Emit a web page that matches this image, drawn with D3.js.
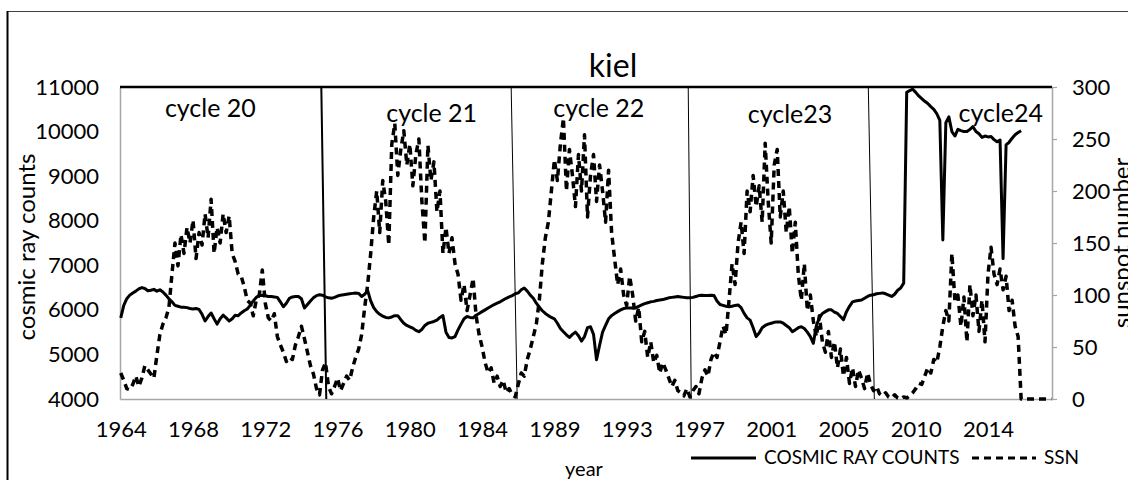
<!DOCTYPE html>
<html>
<head>
<meta charset="utf-8">
<script src="https://cdn.jsdelivr.net/npm/d3@7"></script>
<style>
	body { margin: 0; background: #fff; }
	svg { display: block; font-family: Lato, 'Open Sans', sans-serif; }
</style>
</head>
<body>
<div id="chart"></div>
<script>
// monthly categories, one value every 2 months, starting 1964
const monthCount = 619;

const yearLabels = ['1964', '1968', '1972', '1976', '1980', '1984', '1989', '1993', '1997', '2001', '2005', '2010', '2014'];
const labelEvery = 48; // months between year labels

const crTicks = [4000, 5000, 6000, 7000, 8000, 9000, 10000, 11000];
const ssnTicks = [0, 50, 100, 150, 200, 250, 300];

// Kiel neutron monitor, cosmic ray counts (bimonthly)
const crCounts = [
	5820, 6100, 6250, 6330, 6380, 6420, 6470, 6500, 6480, 6430,
	6440, 6460, 6420, 6450, 6400, 6330, 6250, 6180, 6100, 6080,
	6060, 6060, 6050, 6030, 6020, 6030, 6010, 5900, 5750, 5850,
	5930, 5800, 5680, 5800, 5880, 5820, 5750, 5800, 5880, 5870,
	5930, 5980, 6020, 6100, 6200, 6280, 6320, 6330, 6320, 6300,
	6300, 6290, 6280, 6180, 6070, 6150, 6260, 6290, 6300, 6300,
	6250, 6040, 6120, 6200, 6270, 6320, 6340, 6330, 6290, 6270,
	6260, 6280, 6310, 6330, 6340, 6350, 6360, 6370, 6380, 6370,
	6300, 6350, 6430, 6200, 6050, 5960, 5900, 5860, 5830, 5820,
	5840, 5870, 5870, 5780, 5700, 5650, 5620, 5590, 5540, 5510,
	5560, 5650, 5700, 5720, 5740, 5770, 5830, 5870, 5500, 5380,
	5370, 5400, 5550, 5680, 5800, 5850, 5830, 5820, 5880, 5920,
	5960, 6000, 6040, 6080, 6120, 6150, 6180, 6220, 6260, 6290,
	6320, 6360, 6380, 6450, 6490, 6420, 6330, 6260, 6150, 6060,
	5980, 5920, 5870, 5830, 5800, 5700, 5580, 5510, 5440, 5380,
	5450, 5500, 5420, 5300, 5400, 5600, 5620, 5450, 4880, 5200,
	5500, 5650, 5800, 5870, 5920, 5960, 6000, 6030, 6040, 6040,
	6040, 6050, 6080, 6110, 6140, 6160, 6180, 6190, 6210, 6220,
	6230, 6250, 6270, 6280, 6290, 6300, 6290, 6280, 6270, 6270,
	6280, 6300, 6320, 6330, 6320, 6320, 6330, 6320, 6200, 6120,
	6100, 6080, 6070, 6080, 6100, 6110, 6050, 5920, 5820, 5770,
	5600, 5400, 5480, 5600, 5650, 5680, 5700, 5720, 5730, 5730,
	5700, 5650, 5600, 5510, 5550, 5600, 5620, 5580, 5500, 5400,
	5250, 5650, 5820, 5920, 5960, 6000, 6000, 5950, 5920, 5850,
	5780, 5960, 6080, 6180, 6200, 6210, 6220, 6260, 6300, 6330,
	6340, 6360, 6370, 6380, 6360, 6330, 6300, 6350, 6440, 6490,
	6600, 10880, 10920, 10950, 10880, 10800, 10740, 10680, 10630, 10560,
	10500, 10400, 10250, 7570, 10200, 10330, 10000, 9900, 10050, 10020,
	10000, 10000, 10050, 10110, 10000, 9950, 9870, 9900, 9880, 9890,
	9820, 9770, 9810, 7150, 9700, 9760, 9850, 9930, 9980, 10020
];

// sunspot number (bimonthly)
const ssn = [
	25, 18, 10, 9, 14, 22, 12, 20, 32, 28,
	24, 20, 42, 62, 72, 78, 88, 120, 150, 128,
	158, 140, 165, 150, 172, 135, 160, 148, 178, 155,
	192, 140, 165, 150, 178, 160, 176, 140, 132, 120,
	118, 108, 95, 92, 80, 95, 100, 124, 92, 78,
	75, 82, 60, 52, 45, 36, 40, 38, 52, 60,
	70, 58, 45, 32, 24, 10, 4, 28, 35, 12,
	5, 12, 20, 8, 15, 22, 18, 30, 40, 48,
	62, 88, 110, 140, 175, 200, 160, 210, 190, 148,
	245, 265, 215, 240, 258, 225, 245, 205, 235, 250,
	190, 150, 244, 210, 228, 180, 200, 140, 165, 140,
	155, 130, 120, 95, 110, 85, 100, 116, 80, 62,
	50, 35, 25, 30, 15, 22, 12, 18, 6, 10,
	4, 2, 14, 25, 22, 38, 48, 60, 72, 95,
	130, 155, 170, 200, 230, 210, 245, 270, 200, 240,
	215, 185, 235, 200, 254, 175, 215, 235, 190, 225,
	200, 170, 220, 160, 135, 110, 125, 100, 90, 118,
	100, 75, 88, 55, 65, 40, 55, 35, 42, 25,
	35, 28, 20, 12, 18, 8, 6, 3, 10, 2,
	8, 12, 5, 20, 28, 22, 38, 45, 40, 55,
	70, 62, 95, 130, 110, 150, 170, 140, 200, 180,
	215, 185, 205, 170, 246, 190, 150, 225, 240, 175,
	200, 160, 185, 140, 170, 120, 95, 130, 85, 100,
	75, 60, 80, 55, 45, 65, 40, 55, 30, 48,
	22, 40, 15, 30, 12, 28, 20, 10, 25, 14,
	8, 12, 5, 3, 6, 2, 1, 4, 1, 0,
	2, 1, 3, 6, 10, 15, 14, 22, 30, 25,
	38, 35, 50, 70, 85, 75, 140, 95, 100, 70,
	98, 55, 110, 80, 100, 65, 95, 55, 120, 146,
	120, 110, 125, 105, 118, 85, 95, 70, 60, 0,
	0, 0, 0, 0, 0, 0, 0, 0, 0, 0
];

// solar cycle names and hand drawn boundaries (month index at top and bottom)
const cycleNames = ['cycle 20', 'cycle 21', 'cycle 22', 'cycle23', 'cycle24'];
const cycleTop = [133.7, 259.8, 377.4, 497];
const cycleBottom = [137, 263.8, 379.4, 501];

const width = 1128;
const height = 480;
const margin = { top: 87, right: 76, bottom: 81, left: 120 };
const innerW = width - margin.left - margin.right;
const innerH = height - margin.top - margin.bottom;
const axisGrey = '#a6a6a6';

const svg = d3.select('#chart').append('svg')
	.attr('width', width)
	.attr('height', height);

svg.append('rect').attr('width', width).attr('height', height).attr('fill', '#fff');

// chart frame, right and bottom sides are cut off
svg.append('line').attr('x1', 7).attr('x2', width).attr('y1', 11.5).attr('y2', 11.5)
	.attr('stroke', '#404040').attr('stroke-width', 1);
svg.append('line').attr('x1', 7.5).attr('x2', 7.5).attr('y1', 11).attr('y2', height)
	.attr('stroke', '#000').attr('stroke-width', 2);

svg.append('text')
	.attr('x', 613).attr('y', 77)
	.attr('text-anchor', 'middle')
	.attr('font-size', 32)
	.text('kiel');

const plot = svg.append('g').attr('transform', `translate(${margin.left},${margin.top})`);

const x = d3.scaleLinear().domain([0, monthCount]).range([0, innerW]);
const yL = d3.scaleLinear().domain([4000, 11000]).range([innerH, 0]);
const yR = d3.scaleLinear().domain([0, 300]).range([innerH, 0]);

function styleAxis(g, size) {
	g.attr('font-family', null).attr('font-size', null);
	g.select('.domain').attr('stroke', axisGrey).attr('stroke-width', 1.5);
	g.selectAll('.tick line').attr('stroke', axisGrey).attr('stroke-width', 1.2);
	g.selectAll('.tick text').attr('fill', '#000').attr('font-size', size);
}

const xAxis = d3.axisBottom(x)
	.tickValues(yearLabels.map((d, i) => i * labelEvery + 0.5))
	.tickFormat((d, i) => yearLabels[i])
	.tickSize(0)
	.tickSizeOuter(0)
	.tickPadding(22);

plot.append('g')
	.attr('transform', `translate(0,${innerH})`)
	.call(xAxis)
	.call((g) => styleAxis(g, 22));

plot.append('g')
	.call(d3.axisLeft(yL).tickValues(crTicks).tickFormat(d3.format('d'))
		.tickSize(0).tickSizeOuter(0).tickPadding(21))
	.call((g) => styleAxis(g, 22));

plot.append('g')
	.attr('transform', `translate(${innerW},0)`)
	.call(d3.axisRight(yR).tickValues(ssnTicks).tickSize(5).tickSizeOuter(0).tickPadding(15))
	.call((g) => styleAxis(g, 22));

// black line along the top of the plot
plot.append('line')
	.attr('x1', 0).attr('x2', innerW)
	.attr('y1', 0).attr('y2', 0)
	.attr('stroke', '#000').attr('stroke-width', 2.5);

// cycle boundaries
plot.selectAll('.cycle-line')
	.data(cycleTop)
	.join('line')
	.attr('class', 'cycle-line')
	.attr('x1', (d) => x(d))
	.attr('x2', (d, i) => x(cycleBottom[i]))
	.attr('y1', 0)
	.attr('y2', innerH)
	.attr('stroke', '#000')
	.attr('stroke-width', (d, i) => (i === 0 ? 2 : 1));

// label anchors: month index and distance below the plot top
const cycleLabelAt = [[60, 30], [207, 35], [318, 30], [445, 36], [585, 35]];
plot.selectAll('.cycle-label')
	.data(cycleNames)
	.join('text')
	.attr('class', 'cycle-label')
	.attr('x', (d, i) => x(cycleLabelAt[i][0]))
	.attr('y', (d, i) => cycleLabelAt[i][1])
	.attr('text-anchor', 'middle')
	.attr('font-size', 25)
	.text((d) => d);

const ssnLine = d3.line()
	.x((d, k) => x(2 * k + 0.5))
	.y((d) => yR(d));

const crLine = d3.line()
	.x((d, k) => x(2 * k + 0.5))
	.y((d) => yL(d));

plot.append('path')
	.datum(ssn)
	.attr('d', ssnLine)
	.attr('fill', 'none')
	.attr('stroke', '#000')
	.attr('stroke-width', 3.5)
	.attr('stroke-dasharray', '7,5')
	.attr('stroke-linejoin', 'round');

plot.append('path')
	.datum(crCounts)
	.attr('d', crLine)
	.attr('fill', 'none')
	.attr('stroke', '#000')
	.attr('stroke-width', 3)
	.attr('stroke-linejoin', 'round');

// axis titles
svg.append('text')
	.attr('transform', `translate(35,${margin.top + innerH / 2 + 4}) rotate(-90)`)
	.attr('text-anchor', 'middle')
	.attr('font-size', 24)
	.text('cosmic ray counts');

svg.append('text')
	.attr('transform', `translate(1130,${margin.top + innerH / 2}) rotate(-90)`)
	.attr('text-anchor', 'middle')
	.attr('font-size', 24)
	.text('sunspot number');

svg.append('text')
	.attr('x', 584).attr('y', 476)
	.attr('text-anchor', 'middle')
	.attr('font-size', 20)
	.text('year');

// legend
const legend = svg.append('g').attr('transform', 'translate(0,458)');
const legendItems = [
	{ name: 'COSMIC RAY COUNTS', x0: 691, x1: 756, dash: null },
	{ name: 'SSN', x0: 972, x1: 1036, dash: '7,5' },
];
legendItems.forEach((d) => {
	legend.append('line')
		.attr('x1', d.x0).attr('x2', d.x1)
		.attr('stroke', '#000')
		.attr('stroke-width', 3)
		.attr('stroke-dasharray', d.dash);
	legend.append('text')
		.attr('x', d.x1 + 8)
		.attr('y', 6)
		.attr('font-size', 19)
		.text(d.name);
});
</script>
</body>
</html>
